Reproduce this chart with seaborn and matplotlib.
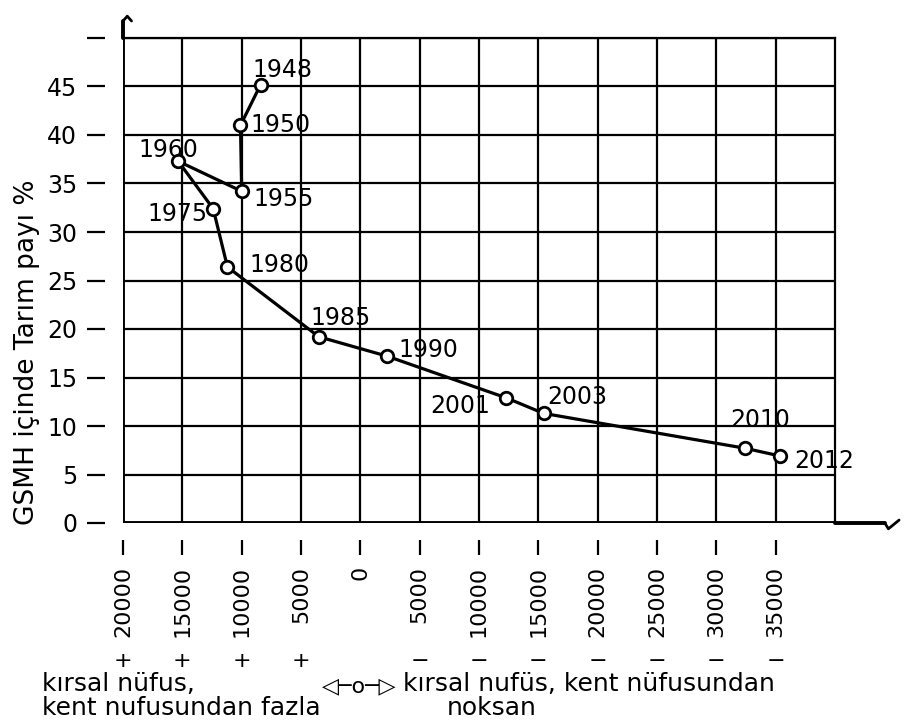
import matplotlib
matplotlib.use("Agg")
import matplotlib.pyplot as plt
import seaborn as sns
import pandas as pd
import numpy as np

# ---- data ----
years = ["1948", "1950", "1955", "1960", "1975", "1980", "1985",
         "1990", "2001", "2003", "2010", "2012"]
fark = [8400, 10100, 10000, 15350, 12400, 11200, 3500,
        -2250, -12300, -15450, -32450, -35400]   # kırsal - kent nüfus farkı
pay = [45.2, 41.0, 34.2, 37.3, 32.4, 26.4, 19.2,
       17.2, 12.9, 11.3, 7.7, 6.9]               # GSMH içinde tarım payı %

x_ticks = [20000, 15000, 10000, 5000, 0, -5000, -10000, -15000,
           -20000, -25000, -30000, -35000]
x_tick_labels = ["20000", "15000", "10000", "5000", "0", "5000", "10000",
                 "15000", "20000", "25000", "30000", "35000"]
x_tick_signs = ["+", "+", "+", "+", "", "\u2212", "\u2212", "\u2212",
                "\u2212", "\u2212", "\u2212", "\u2212"]
y_ticks = [0, 5, 10, 15, 20, 25, 30, 35, 40, 45, 50]
y_tick_labels = ["0", "5", "10", "15", "20", "25", "30", "35", "40", "45", ""]

# label placement (pixel offsets, ha)
label_pos = {
    "1948": (-8, 15, "left"),
    "1950": (10, 0, "left"),
    "1955": (12, -8, "left"),
    "1960": (-10, 11, "center"),
    "1975": (-6, -5, "right"),
    "1980": (22, 2, "left"),
    "1985": (-8, 19, "left"),
    "1990": (11, 6, "left"),
    "2001": (-16, -8, "right"),
    "2003": (4, 16, "left"),
    "2010": (-15, 28, "left"),
    "2012": (14, -5, "left"),
}

df = pd.DataFrame({"yil": years, "fark": fark, "pay": pay})

sns.set_style("white")
plt.rcParams["font.family"] = ["DejaVu Sans"]
plt.rcParams["text.color"] = "black"
plt.rcParams["axes.labelcolor"] = "black"
plt.rcParams["xtick.color"] = "black"
plt.rcParams["ytick.color"] = "black"

fig = plt.figure(figsize=(9.08, 7.22), dpi=100)
ax = fig.add_axes([123 / 908, 199 / 722, 712 / 908, 485 / 722])

# spines first (set_position resets tick properties)
ax.spines["left"].set_position(("outward", 13))
ax.spines["bottom"].set_position(("outward", 12))
ax.spines["left"].set_color("none")
ax.spines["bottom"].set_color("none")
ax.spines["top"].set_linewidth(1.6)
ax.spines["right"].set_linewidth(1.6)
ax.spines["top"].set_color("black")
ax.spines["right"].set_color("black")

sns.lineplot(data=df, x="fark", y="pay", sort=False, estimator=None,
             color="black", linewidth=2.3, marker="o", markersize=9,
             markerfacecolor="white", markeredgecolor="black",
             markeredgewidth=2.0, ax=ax, zorder=5)

ax.set_xlim(20000, -40000)
ax.set_ylim(0, 50)

ax.set_xticks(x_ticks)
ax.set_xticklabels(x_tick_labels, rotation=90, va="top", fontsize=16)
ax.set_yticks(y_ticks)
ax.set_yticklabels(y_tick_labels, fontsize=17)
ax.tick_params(axis="x", bottom=True, direction="out", length=11, width=1.6,
               pad=8, colors="black")
ax.tick_params(axis="y", left=True, direction="out", length=13, width=1.6,
               pad=7, colors="black")

# grid
for xv in x_ticks:
    ax.axvline(xv, color="black", lw=1.6, zorder=1)
for yv in y_ticks:
    ax.axhline(yv, color="black", lw=1.6, zorder=1)

# main axis lines
ax.axhline(0, color="black", lw=2.8, zorder=3)
ax.axvline(20000, color="black", lw=2.8, zorder=3)
ax.plot([1.0, 1.07], [0, 0], color="black", lw=2.8, transform=ax.transAxes,
        clip_on=False)
ax.plot([1.07, 1.075, 1.09], [0, -0.012, 0.006], color="black", lw=2,
        transform=ax.transAxes, clip_on=False)
ax.plot([0, 0], [1.0, 1.035], color="black", lw=2.8, transform=ax.transAxes,
        clip_on=False)
ax.plot([0, 0.006, 0.012], [1.035, 1.045, 1.035], color="black", lw=2,
        transform=ax.transAxes, clip_on=False)

# signs under x tick labels
trans = matplotlib.transforms.blended_transform_factory(ax.transData, fig.transFigure)
for xv, s in zip(x_ticks, x_tick_signs):
    if s:
        ax.text(xv, 1 - 661 / 722, s, transform=trans, ha="center",
                va="center", fontsize=16, clip_on=False)

# year labels
for yr, xv, yv in zip(years, fark, pay):
    dx, dy, ha = label_pos[yr]
    ax.annotate(yr, (xv, yv), xytext=(dx, dy), textcoords="offset pixels",
                ha=ha, va="center", fontsize=17, zorder=6)

ax.set_xlabel("")
ax.set_ylabel("")
fig.text(27 / 908, 1 - 352 / 722, "GSMH içinde Tarım payı %", rotation=90,
         ha="center", va="center", fontsize=19)

# bottom explanation
fig.text(42 / 908, 1 - 684 / 722, "kırsal nüfus,", ha="left", va="center",
         fontsize=18)
fig.text(42 / 908, 1 - 708 / 722, "kent nufusundan fazla", ha="left",
         va="center", fontsize=18)
fig.text(322 / 908, 1 - 686 / 722, "◁─o─▷", ha="left", va="center",
         fontsize=16)
fig.text(403 / 908, 1 - 684 / 722, "kırsal nufüs, kent nüfusundan",
         ha="left", va="center", fontsize=18)
fig.text(447 / 908, 1 - 708 / 722, "noksan", ha="left", va="center",
         fontsize=18)

fig.savefig("out.png", dpi=100)
